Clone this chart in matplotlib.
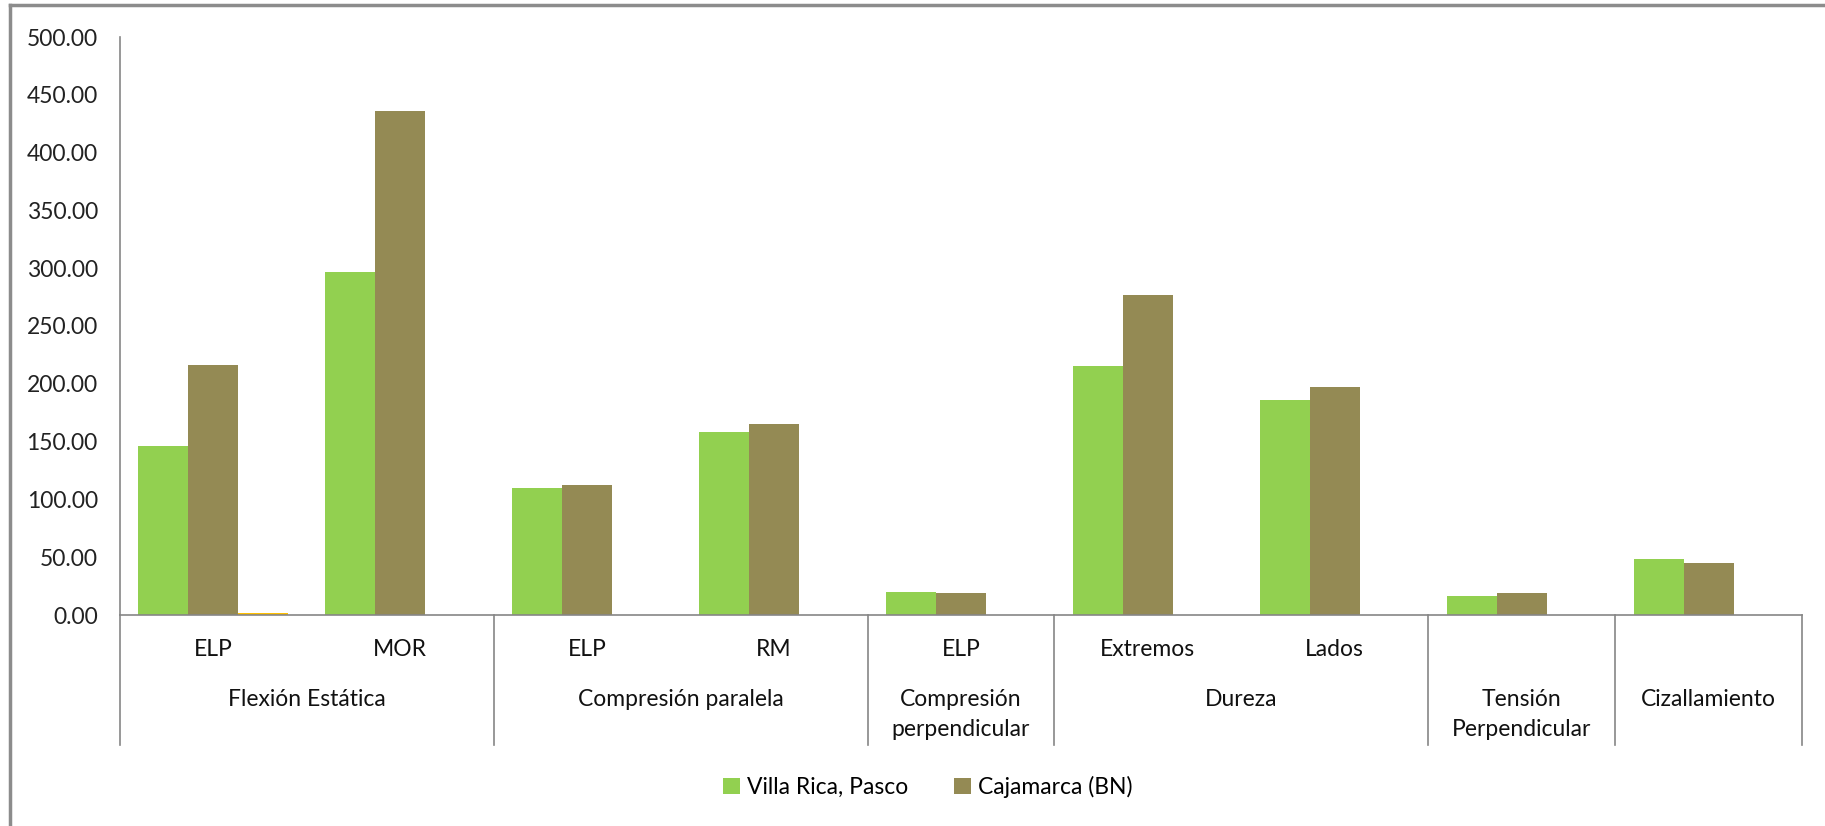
import numpy as np
import matplotlib
matplotlib.use("Agg")
import matplotlib.pyplot as plt
from matplotlib.lines import Line2D
from matplotlib.patches import Patch
import matplotlib.transforms as mtransforms

# ---- data ----
sub_labels = ["ELP", "MOR", "ELP", "RM", "ELP", "Extremos", "Lados", "", ""]
group_labels = ["Flexión Estática", "Compresión paralela", "Compresión\nperpendicular",
                "Dureza", "Tensión\nPerpendicular", "Cizallamiento"]
group_sizes = [2, 2, 1, 2, 1, 1]
villa_rica = [146.5, 296.5, 110.1, 158.6, 20.2, 215.1, 185.7, 16.7, 48.4]
cajamarca = [216.3, 436.3, 112.2, 165.5, 19.0, 276.5, 197.5, 19.0, 45.0]
third_series = [1.5, 0, 0, 0, 0, 0, 0, 0, 0]
series_names = ["Villa Rica, Pasco", "Cajamarca (BN)"]
yticks = [0, 50, 100, 150, 200, 250, 300, 350, 400, 450, 500]

GREEN = "#92D050"
BROWN = "#948A54"
ORANGE = "#FFC000"
GRAY = "#868686"
FONT = "Lato"
FS = 16.5

W, H = 1825, 826
fig = plt.figure(figsize=(W / 100, H / 100), dpi=100)
ax_left, ax_right = 120 / W, 1802 / W
ax_bottom, ax_top = 1 - 615 / H, 1 - 37 / H
ax = fig.add_axes([ax_left, ax_bottom, ax_right - ax_left, ax_top - ax_bottom])

n = len(villa_rica)
x = np.arange(n)
bw = 0.2675
ax.bar(x - bw, villa_rica, width=bw, color=GREEN, linewidth=0)
ax.bar(x, cajamarca, width=bw, color=BROWN, linewidth=0)
ax.bar(x + bw, third_series, width=bw, color=ORANGE, linewidth=0)

ax.set_xlim(-0.5, n - 0.5)
ax.set_ylim(0, 500)
ax.set_yticks(yticks)
ax.set_yticklabels([f"{v:.2f}" for v in yticks], fontfamily=FONT, fontsize=FS, color="#222222")
ax.tick_params(axis="y", length=0, pad=16)
ax.set_xticks([])
for s in ["top", "right"]:
    ax.spines[s].set_visible(False)
ax.spines["left"].set_color(GRAY)
ax.spines["bottom"].set_color(GRAY)
ax.spines["left"].set_linewidth(1.2)
ax.spines["bottom"].set_linewidth(1.2)

axh = 615 - 37
def ay(px):
    return -(px - 615) / axh

trans = mtransforms.blended_transform_factory(ax.transData, ax.transAxes)

# boundaries
bounds = np.concatenate([[0], np.cumsum(group_sizes)]) - 0.5
for b in bounds:
    ax.plot([b, b], [0, ay(745)], transform=trans, color=GRAY, lw=1.2, clip_on=False)

# subcategory labels
for i, lab in enumerate(sub_labels):
    if lab:
        ax.text(i, ay(650), lab, transform=trans, ha="center", va="center",
                fontfamily=FONT, fontsize=FS, color="#111111")

# group labels
for k, lab in enumerate(group_labels):
    c = (bounds[k] + bounds[k + 1]) / 2
    ax.text(c, ay(689), lab, transform=trans, ha="center", va="top",
            fontfamily=FONT, fontsize=FS, color="#111111", linespacing=1.55)

# legend
handles = [Patch(facecolor=GREEN, edgecolor="none"), Patch(facecolor=BROWN, edgecolor="none")]
fig.legend(handles, series_names, loc="center", bbox_to_anchor=(928 / W, 1 - 787 / H),
           ncol=2, frameon=False, prop={"family": FONT, "size": FS},
           handlelength=0.75, handleheight=0.75, handletextpad=0.3, columnspacing=2.0)

# outer frame (left and top visible)
fig.add_artist(Line2D([10 / W, 10 / W], [0, 1 - 5 / H], color="#8C8C8C", lw=2.5))
fig.add_artist(Line2D([10 / W, 1], [1 - 5 / H, 1 - 5 / H], color="#8C8C8C", lw=2.5))

fig.savefig("out.png", dpi=100, facecolor="white")
